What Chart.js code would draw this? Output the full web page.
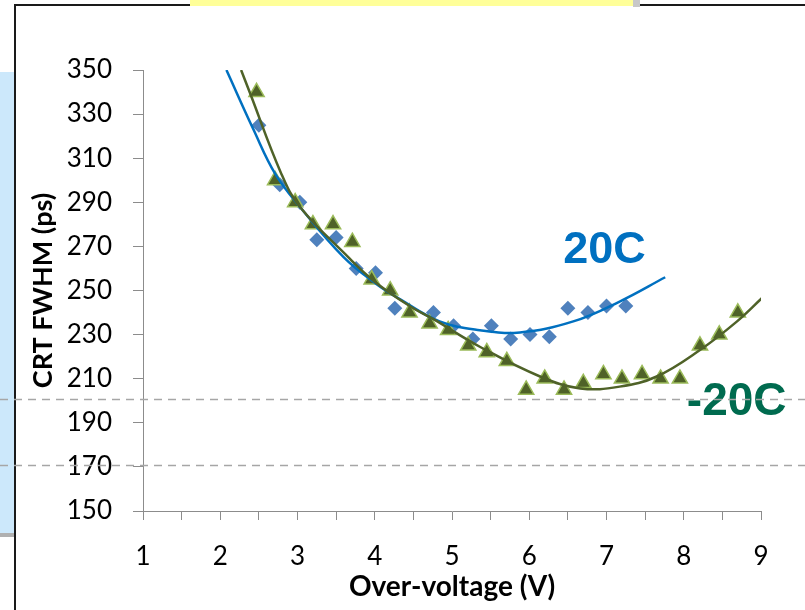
<!DOCTYPE html>
<html>
<head>
<meta charset="utf-8">
<script src="https://cdn.jsdelivr.net/npm/chart.js@4.4.1/dist/chart.umd.min.js"></script>
<style>
  html, body { margin: 0; padding: 0; background: #ffffff; }
  #wrap { width: 805px; height: 610px; position: relative; }
  canvas { display: block; }
</style>
</head>
<body>
<div id="wrap"><canvas id="crt" width="805" height="610"></canvas></div>
<script>
// Measured CRT FWHM (ps) versus SiPM over-voltage (V)
const overVoltage20C = [2.5, 2.77, 3.03, 3.25, 3.5, 3.76, 4.01, 4.26, 4.76, 5.02, 5.27, 5.51, 5.76, 6.01, 6.26, 6.5, 6.76, 7.0, 7.25];
const crt20C        = [325, 298, 290, 273, 274, 260, 258, 242, 240, 234, 228, 234, 228, 230, 229, 242, 240, 243, 243];

const overVoltageM20C = [2.47, 2.71, 2.97, 3.2, 3.46, 3.71, 3.96, 4.2, 4.45, 4.71, 4.95, 5.21, 5.45, 5.71, 5.96, 6.2, 6.45, 6.7, 6.96, 7.2, 7.46, 7.7, 7.95, 8.21, 8.46, 8.7];
const crtM20C        = [340, 300, 290, 280, 280, 272, 255, 250, 240, 235, 232, 225, 222, 218, 205, 210, 205, 208, 212, 210, 212, 210, 210, 225, 230, 240];

// Trend lines through each temperature series
const trend20CVoltage = [2.08, 2.43, 2.71, 3.03, 3.6, 4.02, 4.33, 4.84, 5.36, 5.88, 6.57, 7.17, 7.76];
const trend20CCrt     = [350, 323, 303, 288, 265, 253, 246, 236, 232, 231, 236, 245, 256];

const trendM20CVoltage = [2.27, 2.38, 2.79, 3.03, 3.66, 4.0, 4.45, 4.76, 5.36, 6.14, 6.66, 7.17, 7.65, 8.21, 8.69, 9.01];
const trendM20CCrt     = [350, 340, 303, 288, 265, 254, 243, 237, 224.5, 211, 205.6, 206.4, 211, 223, 236, 246.5];

// Axis ranges and series names
const xRange = [1, 9];
const yRange = [150, 350];
const yStep = 20;
const seriesNames = ['20C', '-20C'];
// Horizontal guide levels (ps)
const guideLevels = [201, 171];

const toPoints = (xs, ys) => xs.map((x, i) => ({ x: x, y: ys[i] }));

const tickFont = { family: 'Lato', size: 26 };
const axisGray = '#8c8c8c';

// Page furniture behind the chart: frame, note boxes
const pageBackdrop = {
  id: 'pageBackdrop',
  beforeDraw(chart) {
    const ctx = chart.ctx;
    ctx.save();
    ctx.fillStyle = '#ffffff';
    ctx.fillRect(0, 0, chart.width, chart.height);
    // light blue note box at the left edge
    ctx.fillStyle = '#cce8fb';
    ctx.fillRect(0, 72, 15, 461);
    ctx.fillStyle = '#b0b0b0';
    ctx.fillRect(0, 533, 15, 4);
    // dark frame
    ctx.strokeStyle = '#1a1a1a';
    ctx.lineWidth = 2;
    ctx.beginPath();
    ctx.moveTo(15, 610);
    ctx.lineTo(15, 5);
    ctx.lineTo(805, 5);
    ctx.stroke();
    // yellow note box at the top
    ctx.fillStyle = '#c8c8c8';
    ctx.fillRect(633, 0, 7, 7);
    ctx.fillStyle = '#ffff99';
    ctx.fillRect(190, 0, 443, 6);
    ctx.restore();
  }
};

// Series names beside the curves and dashed guide lines
const annotations = {
  id: 'annotations',
  afterDraw(chart) {
    const ctx = chart.ctx;
    const xs = chart.scales.x, ys = chart.scales.y;
    ctx.save();
    ctx.textAlign = 'left';
    ctx.textBaseline = 'alphabetic';
    ctx.font = 'bold 45px "Liberation Sans", Arial, sans-serif';
    ctx.fillStyle = '#0070c0';
    ctx.fillText(seriesNames[0], xs.getPixelForValue(6.44), ys.getPixelForValue(262.5));
    ctx.font = 'bold 46px "Liberation Sans", Arial, sans-serif';
    ctx.fillStyle = '#006b4f';
    ctx.fillText(seriesNames[1], xs.getPixelForValue(8.04), ys.getPixelForValue(193.5));

    ctx.strokeStyle = '#a6a6a6';
    ctx.lineWidth = 1.5;
    ctx.setLineDash([8, 6]);
    guideLevels.forEach(level => {
      const y = Math.round(ys.getPixelForValue(level)) + 0.5;
      ctx.beginPath();
      ctx.moveTo(0, y);
      ctx.lineTo(chart.width, y);
      ctx.stroke();
    });
    ctx.restore();
  }
};

new Chart(document.getElementById('crt'), {
  type: 'scatter',
  data: {
    datasets: [
      {
        label: seriesNames[1] + ' fit',
        data: toPoints(trendM20CVoltage, trendM20CCrt),
        showLine: true,
        pointRadius: 0,
        borderColor: '#4f6228',
        borderWidth: 2.5,
        tension: 0.4,
        fill: false,
        clip: 0
      },
      {
        label: seriesNames[0] + ' fit',
        data: toPoints(trend20CVoltage, trend20CCrt),
        showLine: true,
        pointRadius: 0,
        borderColor: '#0070c0',
        borderWidth: 2.5,
        tension: 0.4,
        fill: false,
        clip: 0
      },
      {
        label: seriesNames[1],
        data: toPoints(overVoltageM20C, crtM20C),
        showLine: false,
        pointStyle: 'triangle',
        pointRadius: 8.8,
        backgroundColor: '#4f6228',
        borderColor: '#9bbb59',
        borderWidth: 1.5
      },
      {
        label: seriesNames[0],
        data: toPoints(overVoltage20C, crt20C),
        showLine: false,
        pointStyle: 'rectRot',
        pointRadius: 7.5,
        backgroundColor: '#4f81bd',
        borderColor: '#4f81bd',
        borderWidth: 0
      }
    ]
  },
  options: {
    responsive: false,
    devicePixelRatio: 1,
    animation: false,
    layout: { padding: { top: 70, right: 44, bottom: 0, left: 0 } },
    plugins: {
      legend: { display: false },
      tooltip: { enabled: false }
    },
    scales: {
      x: {
        type: 'linear',
        position: 'bottom',
        min: xRange[0],
        max: xRange[1],
        afterFit(scale) { scale.height = 99; },
        ticks: {
          stepSize: 0.5,
          autoSkip: false,
          maxRotation: 0,
          padding: 21,
          color: '#000000',
          font: tickFont,
          callback: v => Number.isInteger(v) ? String(v) : ''
        },
        grid: {
          display: true,
          drawOnChartArea: false,
          drawTicks: true,
          tickLength: 9,
          color: axisGray,
          lineWidth: 1
        },
        border: { display: true, color: axisGray, width: 1 },
        title: {
          display: true,
          text: 'Over-voltage (V)',
          color: '#000000',
          font: { family: 'Lato', size: 28, weight: 'bold' },
          padding: { top: 0, bottom: 6 }
        }
      },
      y: {
        type: 'linear',
        min: yRange[0],
        max: yRange[1],
        afterFit(scale) { scale.width = 143; },
        ticks: {
          stepSize: yStep,
          padding: 21,
          color: '#000000',
          font: tickFont
        },
        grid: {
          display: true,
          drawOnChartArea: false,
          drawTicks: true,
          tickLength: 10,
          color: axisGray,
          lineWidth: 1
        },
        border: { display: true, color: axisGray, width: 1 },
        title: {
          display: true,
          text: 'CRT FWHM (ps)',
          color: '#000000',
          font: { family: 'Lato', size: 27, weight: 'bold' },
          padding: { top: 27, bottom: 0 }
        }
      }
    }
  },
  plugins: [pageBackdrop, annotations]
});
</script>
</body>
</html>
